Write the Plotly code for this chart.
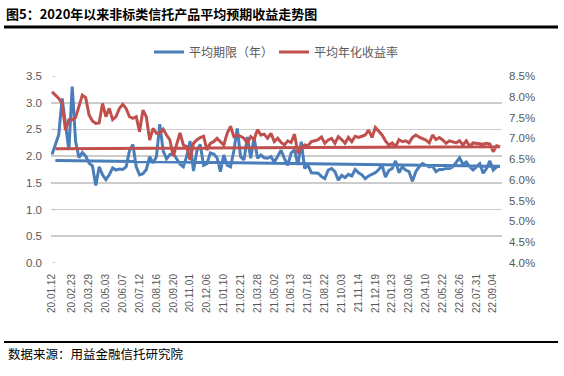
import pandas as pd
import plotly.graph_objects as go

# ---- data ----
SKIPPED_WEEKS = ["2020-02-02", "2020-10-04", "2021-02-14", "2021-05-09",
                 "2021-09-19", "2021-10-10", "2022-02-06", "2022-05-01"]
_weeks = pd.date_range("2020-01-12", "2022-09-25", freq="7D")
_weeks = [d for d in _weeks if d.strftime("%Y-%m-%d") not in SKIPPED_WEEKS]
DATES = [d.strftime("%y.%m.%d") for d in _weeks]

TICK_LABELS = ["20.01.12", "20.02.23", "20.03.29", "20.05.03", "20.06.07", "20.07.12",
               "20.08.16", "20.09.20", "20.11.01", "20.12.06", "21.01.10", "21.02.21",
               "21.03.28", "21.05.02", "21.06.13", "21.07.18", "21.08.22", "21.10.03",
               "21.11.14", "21.12.19", "22.01.23", "22.03.06", "22.04.10", "22.05.22",
               "22.06.26", "22.07.31", "22.09.04"]

LEFT_TICKS = [0.0, 0.5, 1.0, 1.5, 2.0, 2.5, 3.0, 3.5]
RIGHT_TICKS = [4.0, 4.5, 5.0, 5.5, 6.0, 6.5, 7.0, 7.5, 8.0, 8.5]

TERM_YEARS = [
    2.03, 2.40, 3.08, 2.60, 2.12, 3.30, 2.28, 1.97, 2.07, 2.00,
    1.87, 1.82, 1.45, 1.80, 1.65, 1.56, 1.65, 1.78, 1.74, 1.76,
    1.75, 1.80, 2.10, 2.22, 1.80, 1.65, 1.67, 1.75, 1.99, 1.87,
    1.99, 2.60, 2.10, 1.95, 2.03, 2.05, 1.94, 1.85, 1.80, 2.00,
    2.28, 1.72, 2.10, 2.22, 1.83, 1.86, 2.06, 2.04, 1.97, 1.71,
    2.02, 1.83, 1.80, 2.10, 2.52, 1.99, 1.93, 2.36, 1.96, 2.35,
    1.96, 2.02, 1.97, 1.96, 1.99, 1.89, 2.00, 2.11, 1.96, 1.83,
    2.06, 2.12, 1.83, 2.27, 1.77, 1.83, 1.69, 1.69, 1.68, 1.62,
    1.58, 1.74, 1.77, 1.71, 1.55, 1.64, 1.60, 1.66, 1.63, 1.75,
    1.69, 1.65, 1.58, 1.63, 1.66, 1.69, 1.75, 1.83, 1.61, 1.73,
    1.77, 1.91, 1.69, 1.80, 1.74, 1.71, 1.53, 1.71, 1.80, 1.86,
    1.83, 1.80, 1.81, 1.71, 1.75, 1.75, 1.77, 1.77, 1.80, 1.88,
    1.97, 1.85, 1.89, 1.80, 1.74, 1.80, 1.86, 1.68, 1.77, 1.91,
    1.74, 1.80, 1.81, 1.92,
]

YIELD_PCT = [
    8.12, 7.96, 7.84, 7.20, 7.45, 7.45, 7.50, 7.76, 8.04, 7.98,
    7.56, 7.42, 7.36, 7.37, 7.84, 7.52, 7.72, 7.45, 7.52, 7.72,
    7.82, 7.72, 7.52, 7.48, 7.52, 7.16, 7.68, 7.52, 6.96, 7.24,
    7.12, 7.12, 7.22, 7.08, 6.96, 6.57, 6.88, 7.13, 6.84, 6.80,
    6.48, 6.88, 6.96, 7.02, 7.05, 6.72, 6.88, 6.92, 7.00, 6.92,
    6.84, 7.12, 7.29, 7.04, 7.08, 7.05, 7.00, 6.88, 7.04, 6.97,
    7.21, 7.08, 7.10, 7.00, 7.12, 6.92, 7.00, 6.90, 6.84, 6.94,
    6.90, 7.10, 6.64, 6.76, 6.84, 6.82, 6.92, 6.94, 6.97, 7.03,
    6.88, 6.96, 7.00, 6.88, 7.04, 6.97, 6.88, 7.02, 6.92, 7.05,
    7.02, 7.05, 7.08, 7.20, 7.02, 7.26, 7.18, 7.08, 6.94, 6.84,
    6.89, 6.80, 6.97, 6.92, 6.94, 6.89, 7.02, 7.08, 7.03, 7.00,
    6.96, 6.89, 7.08, 6.97, 7.02, 6.96, 6.88, 6.94, 6.92, 6.89,
    6.94, 6.84, 6.94, 6.81, 6.89, 6.88, 6.88, 6.86, 6.88, 6.86,
    6.68, 6.82, 6.80, 6.75,
]

TITLE = "图5：2020年以来非标类信托产品平均预期收益走势图"
SOURCE = "数据来源：用益金融信托研究院"
NAMES = ["平均期限（年）", "平均年化收益率"]

assert len(DATES) == len(TERM_YEARS) == len(YIELD_PCT)

# ---- layout geometry (pixels in the 564x376 frame) ----
W, H = 564, 376
PL, PR, PT, PB = 51, 502, 76, 263


def px(x):
    return (x - PL) / (PR - PL)


def py(y):
    return (PB - y) / (PB - PT)


BLUE = "#4a7ebb"
RED = "#c0504d"
GRID = "#cccccc"
TXT = "#595959"
NUMFONT = "Liberation Sans, Arial, sans-serif"
CJK = "Noto Sans CJK SC, sans-serif"

fig = go.Figure()

# horizontal gridlines at the left-axis ticks, drawn as the bottom-most traces
for v in LEFT_TICKS:
    fig.add_trace(go.Scatter(x=[DATES[0], DATES[-1]], y=[v, v], mode="lines",
                             line=dict(color=GRID, width=1.6), showlegend=False,
                             hoverinfo="skip", yaxis="y"))

fig.add_trace(go.Scatter(x=DATES, y=TERM_YEARS, name=NAMES[0], mode="lines",
                         line=dict(color=BLUE, width=3), yaxis="y"))
fig.add_trace(go.Scatter(x=DATES, y=YIELD_PCT, name=NAMES[1], mode="lines",
                         line=dict(color=RED, width=3), yaxis="y2"))

n = len(DATES)
fig.update_layout(
    width=W, height=H,
    margin=dict(l=PL, r=W - PR, t=PT, b=H - PB, pad=0, autoexpand=False),
    paper_bgcolor="white", plot_bgcolor="rgba(0,0,0,0)",
    showlegend=True,
    legend=dict(orientation="h", x=px(149), y=py(52), xanchor="left", yanchor="middle",
                font=dict(family=CJK, size=12, color=TXT), bgcolor="rgba(0,0,0,0)",
                itemwidth=30, entrywidth=80, entrywidthmode="pixels"),
    xaxis=dict(type="category", range=[-0.3, n - 1 + 0.6], tickmode="array",
               tickvals=TICK_LABELS, ticktext=TICK_LABELS, tickangle=-90,
               tickfont=dict(family=NUMFONT, size=10, color=TXT),
               showgrid=False, showline=False, zeroline=False, ticks="",
               ticklabelstandoff=8, fixedrange=True),
    yaxis=dict(range=[0, 3.5], tickmode="array", tickvals=LEFT_TICKS,
               ticktext=[f"{v:.1f}" for v in LEFT_TICKS],
               showgrid=True, gridcolor=GRID, gridwidth=1.6,
               zeroline=False, showline=False, ticks="",
               tickfont=dict(family=NUMFONT, size=11.5, color=TXT),
               ticklabelstandoff=8, fixedrange=True),
    yaxis2=dict(range=[4, 8.5], tickmode="array", tickvals=RIGHT_TICKS,
                ticktext=[f"{v:.1f}%" for v in RIGHT_TICKS],
                overlaying="y", side="right",
                showgrid=False, zeroline=False, showline=False, ticks="",
                tickfont=dict(family=NUMFONT, size=11.5, color=TXT),
                ticklabelstandoff=6, fixedrange=True),
    annotations=[
        dict(text="<b>" + TITLE + "</b>", xref="paper", yref="paper", x=px(4), y=py(13),
             xanchor="left", yanchor="middle", showarrow=False,
             font=dict(family=CJK, size=13, color="black")),
        dict(text=SOURCE, xref="paper", yref="paper", x=px(6), y=py(353),
             xanchor="left", yanchor="middle", showarrow=False,
             font=dict(family=CJK, size=12.5, color="black")),
    ],
    shapes=[
        dict(type="line", xref="paper", yref="paper", x0=px(4), x1=px(558),
             y0=py(27), y1=py(27), line=dict(color="black", width=3)),
        dict(type="line", xref="paper", yref="paper", x0=px(4), x1=px(558),
             y0=py(342), y1=py(342), line=dict(color="black", width=2)),
    ],
)

fig.write_html("out.html", config={"displayModeBar": False, "staticPlot": True},
               post_script="document.body.style.margin='0';document.body.style.padding='0';")
